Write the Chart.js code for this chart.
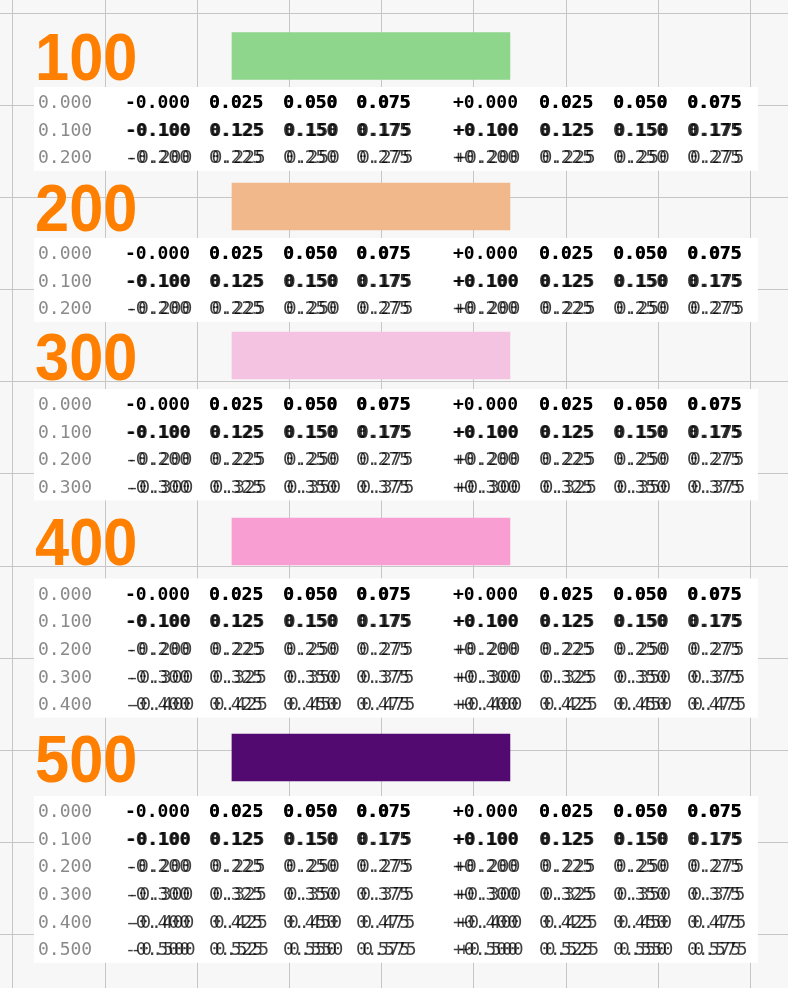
<!DOCTYPE html>
<html>
<head>
<meta charset="utf-8">
<script src="https://cdn.jsdelivr.net/npm/chart.js@4/dist/chart.umd.min.js"></script>
<style>
  html, body { margin: 0; padding: 0; background: #f7f7f7; }
  canvas { display: block; }
</style>
</head>
<body>
<canvas id="chart" width="788" height="988"></canvas>
<script>
// --- Data (positions in grid units, one unit = one grid square) ---
const weight_labels = ['100', '200', '300', '400', '500'];
const bar_colors = ['#8ed68b', '#f0b88b', '#f5c3e2', '#f99ed3', '#520a70'];
const bar_start = [2.375, 2.375, 2.375, 2.375, 2.375];
const bar_end = [5.39, 5.39, 5.39, 5.39, 5.39];
const bar_y = [0.466, 2.099, 3.715, 5.732, 8.075];
const row_counts = [3, 3, 4, 5, 6];
const first_row_y = [0.960, 2.598, 4.235, 6.291, 8.650];
const row_offsets = [0.000, 0.100, 0.200, 0.300, 0.400, 0.500];
const col_offsets = [0.000, 0.025, 0.050, 0.075];

const ROW_STEP = 0.3;
const BOX_X0 = 0.228, BOX_X1 = 8.080;
const X_MIN = -0.141, X_MAX = 8.406;
const Y_MIN = -0.141, Y_MAX = 10.575;

// --- Plugins ---
const boxes_plugin = {
  id: 'boxes',
  beforeDatasetsDraw(chart) {
    const { ctx, scales: { x, y } } = chart;
    ctx.save();
    ctx.fillStyle = '#ffffff';
    row_counts.forEach((n, i) => {
      const top = y.getPixelForValue(first_row_y[i]) - 14.5;
      const bottom = y.getPixelForValue(first_row_y[i] + (n - 1) * ROW_STEP) + 14;
      const left = x.getPixelForValue(BOX_X0);
      const right = x.getPixelForValue(BOX_X1);
      ctx.fillRect(left, top, right - left, bottom - top);
    });
    ctx.restore();
  }
};

// each cell is drawn twice, the second copy nudged right by its value
function draw_cell(ctx, txt, px, py, row, shift) {
  const off = shift * 11;
  if (row < 0.05) {
    ctx.font = 'bold 18px "DejaVu Sans Mono"';
    ctx.fillStyle = '#000000';
  } else if (row < 0.15) {
    ctx.font = 'bold 18px "DejaVu Sans Mono"';
    ctx.fillStyle = 'rgba(0,0,0,0.8)';
  } else {
    ctx.font = '18px "DejaVu Sans Mono"';
    ctx.fillStyle = 'rgba(0,0,0,0.75)';
  }
  ctx.fillText(txt, px, py);
  if (off > 0) ctx.fillText(txt, px + off, py);
}

const text_plugin = {
  id: 'texts',
  afterDatasetsDraw(chart) {
    const { ctx, scales: { x, y } } = chart;
    const left = x.getPixelForValue(BOX_X0);
    const col_x = [4, 91, 175, 249, 322, 419, 505, 579, 653].map(d => left + d);
    ctx.save();
    ctx.textBaseline = 'alphabetic';
    weight_labels.forEach((lab, i) => {
      ctx.save();
      ctx.translate(left + 1, y.getPixelForValue(bar_y[i]) + 24);
      ctx.scale(0.93, 1);
      ctx.font = 'bold 66px "Liberation Sans"';
      ctx.fillStyle = '#ff7f00';
      ctx.fillText(lab, 0, 0);
      ctx.restore();
      for (let r = 0; r < row_counts[i]; r++) {
        const row = row_offsets[r];
        const py = y.getPixelForValue(first_row_y[i] + r * ROW_STEP) + 6.5;
        ctx.font = '18px "DejaVu Sans Mono"';
        ctx.fillStyle = '#8a8a8a';
        ctx.fillText(row.toFixed(3), col_x[0], py);
        ['-', '+'].forEach((sign, g) => {
          col_offsets.forEach((c, k) => {
            const txt = k === 0 ? sign + row.toFixed(3) : (row + c).toFixed(3);
            draw_cell(ctx, txt, col_x[1 + g * 4 + k], py, row, row + c);
          });
        });
      }
    });
    ctx.restore();
  }
};

// --- Chart ---
const unit_ticks = s => {
  s.ticks = [];
  for (let v = Math.ceil(s.min); v <= Math.floor(s.max); v++) s.ticks.push({ value: v });
};

const axis = (min, max, reverse) => ({
  type: 'linear', min, max, reverse, offset: false,
  afterBuildTicks: unit_ticks,
  grid: { color: '#c6c6c6', lineWidth: 1, drawTicks: false, offset: false },
  border: { display: false },
  ticks: { display: false, padding: 0 }
});

new Chart(document.getElementById('chart'), {
  type: 'bar',
  data: {
    datasets: [{
      data: weight_labels.map((_, i) => ({ x: [bar_start[i], bar_end[i]], y: bar_y[i] })),
      backgroundColor: bar_colors,
      borderWidth: 0,
      barThickness: 47
    }]
  },
  options: {
    indexAxis: 'y',
    responsive: false,
    devicePixelRatio: 1,
    animation: false,
    events: [],
    layout: { padding: 0 },
    plugins: { legend: { display: false }, tooltip: { enabled: false } },
    scales: { x: axis(X_MIN, X_MAX, false), y: axis(Y_MIN, Y_MAX, true) }
  },
  plugins: [boxes_plugin, text_plugin]
});
</script>
</body>
</html>
